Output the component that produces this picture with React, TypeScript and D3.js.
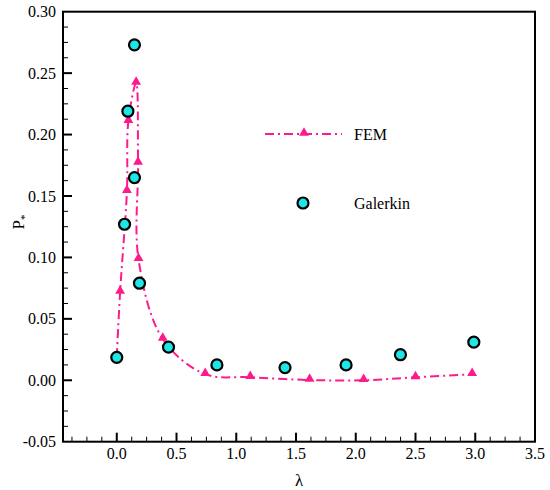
import * as d3 from "d3";

// FEM solution (lambda, P*)
const femLambda = [0.0, 0.028, 0.085, 0.097, 0.162, 0.178, 0.182, 0.385, 0.74, 1.117, 1.614, 2.066, 2.5, 2.974];
const femP = [0.019, 0.072, 0.154, 0.211, 0.242, 0.177, 0.0985, 0.0336, 0.005, 0.0025, 0.0002, 0.0, 0.0024, 0.0049];

// Galerkin solution
const galLambda = [0.0, 0.065, 0.093, 0.148, 0.148, 0.19, 0.433, 0.838, 1.408, 1.919, 2.374, 2.988];
const galP = [0.0187, 0.127, 0.219, 0.273, 0.165, 0.079, 0.027, 0.0125, 0.0103, 0.0125, 0.0208, 0.031];

const xTicks = [0, 0.5, 1, 1.5, 2, 2.5, 3, 3.5];
const yTicks = [-0.05, 0, 0.05, 0.1, 0.15, 0.2, 0.25, 0.3];

const width = 550;
const height = 490;
const plot = { left: 63, right: 535, top: 11.7, bottom: 441.7 };
const pink = "#ff1a8c";
const cyan = "#1ee6e6";
const font = "Liberation Serif, DejaVu Serif, serif";

export default function App() {
  const x = d3.scaleLinear().domain([-0.45, 3.5]).range([plot.left, plot.right]);
  const y = d3.scaleLinear().domain([-0.05, 0.3]).range([plot.bottom, plot.top]);

  const fem = femLambda.map((l, i) => [l, femP[i]] as [number, number]);
  const gal = galLambda.map((l, i) => [l, galP[i]] as [number, number]);

  const line = d3
    .line<[number, number]>()
    .x((d) => x(d[0]))
    .y((d) => y(d[1]))
    .curve(d3.curveCatmullRom.alpha(0.5));

  const tri = d3.symbol(d3.symbolTriangle, 42)()!;

  // minor ticks every quarter of a major step
  const xMinor = d3.range(-0.375, 3.5, 0.125).filter((v) => Math.abs(v / 0.5 - Math.round(v / 0.5)) > 1e-6);
  const yMinor = d3.range(-0.0375, 0.3, 0.0125).filter((v) => Math.abs(v / 0.05 - Math.round(v / 0.05)) > 1e-6);

  const dash = "9,4,2,4";

  return (
    <div style={{ position: "absolute", left: 0, top: 0 }}>
      <svg width={width} height={height} style={{ display: "block", background: "#fff", fontFamily: font }}>
        {/* FEM curve */}
        <path d={line(fem)!} fill="none" stroke={pink} strokeWidth={2} strokeDasharray={dash} />
        {fem.map((d, i) => (
          <path key={"t" + i} d={tri} transform={`translate(${x(d[0])},${y(d[1]) - 1})`} fill={pink} />
        ))}

        {/* Galerkin points */}
        {gal.map((d, i) => (
          <circle key={"c" + i} cx={x(d[0])} cy={y(d[1])} r={5.5} fill={cyan} stroke="#000" strokeWidth={2.2} />
        ))}

        {/* frame */}
        <rect
          x={plot.left}
          y={plot.top}
          width={plot.right - plot.left}
          height={plot.bottom - plot.top}
          fill="none"
          stroke="#000"
          strokeWidth={2}
        />

        {/* x ticks */}
        {xTicks.map((t) => (
          <g key={"xt" + t}>
            {t < 3.5 && <line x1={x(t)} x2={x(t)} y1={plot.bottom} y2={plot.bottom - 9} stroke="#000" strokeWidth={2} />}
            <text x={x(t)} y={459} textAnchor="middle" fontSize={16}>
              {t.toFixed(1)}
            </text>
          </g>
        ))}
        {xMinor.map((t) => (
          <line key={"xm" + t} x1={x(t)} x2={x(t)} y1={plot.bottom} y2={plot.bottom - 5} stroke="#000" strokeWidth={1} />
        ))}

        {/* y ticks */}
        {yTicks.map((t) => (
          <g key={"yt" + t}>
            {t > -0.05 && t < 0.3 && (
              <line x1={plot.left} x2={plot.left + 9} y1={y(t)} y2={y(t)} stroke="#000" strokeWidth={2} />
            )}
            <text x={56} y={y(t)} dy="0.35em" textAnchor="end" fontSize={16}>
              {t.toFixed(2)}
            </text>
          </g>
        ))}
        {yMinor.map((t) => (
          <line key={"ym" + t} x1={plot.left} x2={plot.left + 5} y1={y(t)} y2={y(t)} stroke="#000" strokeWidth={1} />
        ))}

        {/* axis titles */}
        <text x={(plot.left + plot.right) / 2} y={486} textAnchor="middle" fontSize={17}>
          λ
        </text>
        <text transform="translate(24,222) rotate(-90)" textAnchor="middle" fontSize={17}>
          P<tspan fontSize={11} dy="4">*</tspan>
        </text>

        {/* legend */}
        <line x1={265} x2={342} y1={134} y2={134} stroke={pink} strokeWidth={2} strokeDasharray={dash} />
        <path d={tri} transform="translate(304,133)" fill={pink} />
        <text x={354} y={139.5} fontSize={16}>
          FEM
        </text>
        <circle cx={303} cy={203} r={5.5} fill={cyan} stroke="#000" strokeWidth={2.2} />
        <text x={354} y={208.5} fontSize={16}>
          Galerkin
        </text>
      </svg>
    </div>
  );
}
